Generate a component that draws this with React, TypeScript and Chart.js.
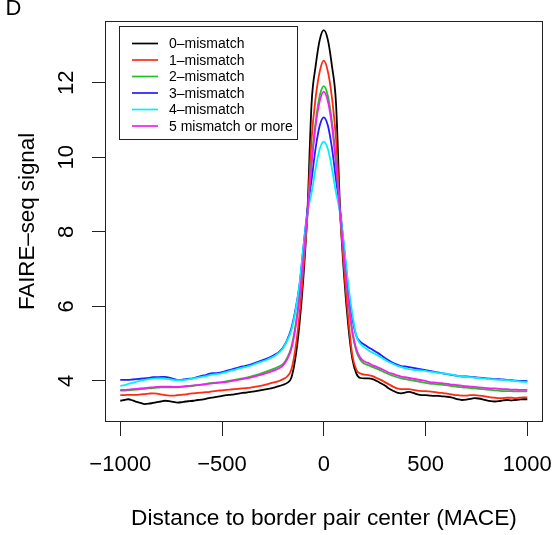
import React, { useEffect, useRef } from "react";
import { Chart, registerables } from "chart.js";

Chart.register(...registerables);

// Distance positions (bp), every 20 bp from -1000 to 1000
const POSITIONS: number[] = Array.from({ length: 101 }, (_, i) => -1000 + 20 * i);

const SERIES_LABELS = [
  "0–mismatch",
  "1–mismatch",
  "2–mismatch",
  "3–mismatch",
  "4–mismatch",
  "5 mismatch or more",
];

const X_TICKS = [-1000, -500, 0, 500, 1000];
const Y_TICKS = [4, 6, 8, 10, 12];

const MISMATCH_0 = [
  3.47, 3.49, 3.51, 3.48, 3.44, 3.41, 3.38, 3.39, 3.41, 3.43,
  3.45, 3.47, 3.46, 3.44, 3.42, 3.43, 3.45, 3.46, 3.47, 3.49,
  3.50, 3.52, 3.55, 3.56, 3.58, 3.60, 3.62, 3.63, 3.64, 3.66,
  3.68, 3.69, 3.71, 3.72, 3.74, 3.76, 3.78, 3.80, 3.83, 3.86,
  3.90, 3.95, 4.08, 4.60, 5.50, 6.80, 8.60, 11.45, 12.45, 13.15,
  13.41,
  13.15, 12.45, 11.45, 8.60, 6.80, 5.50, 4.60, 4.20, 4.08, 4.07,
  4.07, 4.05, 4.00, 3.94, 3.88, 3.80, 3.74, 3.69, 3.67, 3.69,
  3.71, 3.68, 3.64, 3.62, 3.62, 3.61, 3.60, 3.60, 3.59, 3.58,
  3.57, 3.54, 3.51, 3.49, 3.50, 3.52, 3.54, 3.53, 3.51, 3.48,
  3.46, 3.45, 3.46, 3.48, 3.49, 3.48, 3.49, 3.50, 3.51, 3.51,
];

const MISMATCH_1 = [
  3.62, 3.62, 3.63, 3.63, 3.63, 3.64, 3.65, 3.66, 3.67, 3.66,
  3.64, 3.62, 3.61, 3.61, 3.62, 3.63, 3.64, 3.66, 3.67, 3.68,
  3.69, 3.70, 3.71, 3.73, 3.74, 3.75, 3.76, 3.77, 3.78, 3.79,
  3.80, 3.81, 3.82, 3.84, 3.86, 3.88, 3.91, 3.94, 3.97, 4.00,
  4.05, 4.12, 4.30, 4.85, 5.75, 7.00, 8.50, 10.50, 11.60, 12.30,
  12.59,
  12.30, 11.60, 10.50, 8.50, 7.00, 5.70, 4.70, 4.30, 4.20, 4.17,
  4.16, 4.13, 4.08, 4.03, 3.97, 3.91, 3.85, 3.80, 3.78, 3.78,
  3.78, 3.76, 3.74, 3.73, 3.73, 3.72, 3.71, 3.69, 3.68, 3.67,
  3.65, 3.63, 3.62, 3.61, 3.61, 3.62, 3.62, 3.61, 3.60, 3.58,
  3.56, 3.55, 3.54, 3.54, 3.55, 3.55, 3.54, 3.55, 3.56, 3.56,
];

const MISMATCH_2 = [
  3.74, 3.74, 3.75, 3.76, 3.77, 3.78, 3.79, 3.80, 3.81, 3.82,
  3.83, 3.83, 3.83, 3.83, 3.83, 3.84, 3.85, 3.86, 3.87, 3.89,
  3.90, 3.92, 3.94, 3.95, 3.96, 3.97, 3.99, 4.01, 4.03, 4.05,
  4.07, 4.09, 4.12, 4.15, 4.18, 4.22, 4.26, 4.30, 4.34, 4.39,
  4.46, 4.62, 4.90, 5.45, 6.25, 7.30, 8.50, 9.90, 10.95, 11.65,
  11.91,
  11.65, 10.95, 9.90, 8.50, 7.30, 6.20, 5.30, 4.80, 4.56, 4.46,
  4.42, 4.37, 4.33, 4.28, 4.23, 4.18, 4.14, 4.10, 4.07, 4.05,
  4.03, 4.01, 3.99, 3.97, 3.95, 3.93, 3.92, 3.91, 3.90, 3.89,
  3.87, 3.86, 3.84, 3.83, 3.82, 3.81, 3.80, 3.79, 3.78, 3.77,
  3.76, 3.75, 3.74, 3.73, 3.73, 3.73, 3.72, 3.72, 3.72, 3.72,
];

const MISMATCH_3 = [
  4.03, 4.03, 4.03, 4.04, 4.05, 4.06, 4.07, 4.08, 4.10, 4.10,
  4.11, 4.11, 4.09, 4.06, 4.03, 4.03, 4.05, 4.06, 4.08, 4.11,
  4.14, 4.16, 4.20, 4.21, 4.22, 4.24, 4.27, 4.30, 4.33, 4.36,
  4.39, 4.41, 4.44, 4.48, 4.52, 4.56, 4.60, 4.65, 4.71, 4.78,
  4.90, 5.10, 5.40, 5.90, 6.55, 7.60, 8.60, 9.40, 10.25, 10.85,
  11.07,
  10.85, 10.25, 9.40, 8.60, 7.55, 6.50, 5.70, 5.20, 5.05, 4.97,
  4.90, 4.84, 4.77, 4.70, 4.62, 4.55, 4.49, 4.44, 4.40, 4.39,
  4.37, 4.35, 4.33, 4.31, 4.29, 4.27, 4.25, 4.23, 4.21, 4.19,
  4.17, 4.15, 4.14, 4.12, 4.12, 4.11, 4.10, 4.09, 4.08, 4.07,
  4.06, 4.05, 4.05, 4.04, 4.03, 4.02, 4.01, 4.00, 4.00, 4.00,
];

const MISMATCH_4 = [
  3.87, 3.89, 3.92, 3.95, 3.98, 4.01, 4.03, 4.05, 4.06, 4.07,
  4.07, 4.06, 4.05, 4.03, 4.02, 4.02, 4.03, 4.05, 4.07, 4.09,
  4.11, 4.13, 4.16, 4.18, 4.19, 4.21, 4.24, 4.27, 4.30, 4.33,
  4.36, 4.38, 4.41, 4.45, 4.49, 4.53, 4.57, 4.62, 4.68, 4.76,
  4.88, 5.08, 5.35, 5.85, 6.55, 7.60, 8.50, 9.05, 9.70, 10.22,
  10.42,
  10.22, 9.70, 9.05, 8.50, 7.60, 6.60, 5.80, 5.20, 5.00, 4.90,
  4.82, 4.76, 4.70, 4.64, 4.57, 4.51, 4.46, 4.41, 4.37, 4.34,
  4.32, 4.30, 4.29, 4.28, 4.27, 4.25, 4.24, 4.22, 4.21, 4.20,
  4.18, 4.16, 4.14, 4.12, 4.11, 4.10, 4.09, 4.08, 4.07, 4.06,
  4.05, 4.04, 4.03, 4.03, 4.02, 4.01, 4.00, 3.99, 3.98, 3.98,
];

const MISMATCH_5_PLUS = [
  3.76, 3.76, 3.77, 3.78, 3.79, 3.80, 3.81, 3.82, 3.83, 3.84,
  3.85, 3.85, 3.85, 3.84, 3.84, 3.85, 3.86, 3.87, 3.88, 3.89,
  3.90, 3.91, 3.93, 3.94, 3.95, 3.96, 3.97, 3.99, 4.01, 4.03,
  4.05, 4.07, 4.09, 4.12, 4.15, 4.18, 4.21, 4.25, 4.29, 4.34,
  4.42, 4.58, 4.85, 5.40, 6.20, 7.30, 8.50, 9.80, 10.85, 11.50,
  11.76,
  11.50, 10.85, 9.80, 8.50, 7.30, 6.20, 5.35, 4.85, 4.62, 4.52,
  4.48, 4.42, 4.38, 4.33, 4.28, 4.22, 4.19, 4.15, 4.12, 4.10,
  4.08, 4.06, 4.04, 4.02, 4.00, 3.97, 3.96, 3.95, 3.94, 3.93,
  3.91, 3.90, 3.89, 3.87, 3.86, 3.85, 3.84, 3.83, 3.82, 3.81,
  3.80, 3.80, 3.79, 3.78, 3.78, 3.77, 3.77, 3.76, 3.76, 3.76,
];

const SERIES = [MISMATCH_0, MISMATCH_1, MISMATCH_2, MISMATCH_3, MISMATCH_4, MISMATCH_5_PLUS];
const SERIES_COLORS = ["#000000", "#ff2a10", "#1fc31f", "#1e1eff", "#00f0ff", "#f020f0"];

const FONT_FAMILY = '"Liberation Sans", Arial, Helvetica, sans-serif';

const framePlugin = {
  id: "rframe",
  afterDraw(chart: any) {
    const { ctx, chartArea } = chart;
    ctx.save();
    // plot box
    const x0 = Math.round(chartArea.left) + 0.5;
    const x1 = Math.round(chartArea.right) - 0.5;
    const y0 = Math.round(chartArea.top) + 0.5;
    const y1 = Math.round(chartArea.bottom) - 0.5;
    ctx.strokeStyle = "#222";
    ctx.lineWidth = 1;
    ctx.strokeRect(x0, y0, x1 - x0, y1 - y0);

    // y tick labels (rotated, R style)
    const yScale = chart.scales.y;
    ctx.fillStyle = "#000";
    ctx.font = "22px " + FONT_FAMILY;
    ctx.textAlign = "center";
    ctx.textBaseline = "alphabetic";
    for (const t of yScale.ticks) {
      const py = yScale.getPixelForValue(t.value);
      ctx.save();
      ctx.translate(yScale.right - 32.5, py);
      ctx.rotate(-Math.PI / 2);
      ctx.fillText(String(t.value), 0, 0);
      ctx.restore();
    }

    // panel letter
    ctx.textAlign = "left";
    ctx.fillText("D", 5.5, 15);

    // legend box
    const bx = 119.5, by = 26.5, bw = 178, bh = 113;
    ctx.fillStyle = "#fff";
    ctx.fillRect(bx, by, bw, bh);
    ctx.strokeStyle = "#222";
    ctx.lineWidth = 1;
    ctx.strokeRect(bx, by, bw, bh);
    ctx.font = "14px " + FONT_FAMILY;
    ctx.textBaseline = "middle";
    chart.data.datasets.forEach((ds: any, i: number) => {
      const y = 43.5 + i * 16.5;
      ctx.strokeStyle = ds.borderColor;
      ctx.lineWidth = 1.7;
      ctx.beginPath();
      ctx.moveTo(132, y);
      ctx.lineTo(158, y);
      ctx.stroke();
      ctx.fillStyle = "#000";
      ctx.fillText(ds.label, 169, y + 1);
    });
    ctx.restore();
  },
};

export default function App() {
  const canvasRef = useRef<HTMLCanvasElement | null>(null);

  useEffect(() => {
    const canvas = canvasRef.current;
    if (!canvas) return;
    const chart = new Chart(canvas, {
      type: "line",
      data: {
        datasets: SERIES.map((vals, i) => ({
          label: SERIES_LABELS[i],
          data: POSITIONS.map((x, j) => ({ x, y: vals[j] })),
          borderColor: SERIES_COLORS[i],
          backgroundColor: SERIES_COLORS[i],
          borderWidth: 1.8,
          pointRadius: 0,
          cubicInterpolationMode: "monotone" as const,
          fill: false,
          order: 5 - i,
        })),
      },
      options: {
        responsive: false,
        animation: false,
        events: [],
        layout: { padding: { left: 0, right: 15, top: 21, bottom: 0 } },
        plugins: {
          legend: { display: false },
          tooltip: { enabled: false },
        },
        scales: {
          x: {
            type: "linear",
            min: -1075,
            max: 1077,
            afterBuildTicks: (s: any) => {
              s.ticks = X_TICKS.map((v) => ({ value: v }));
            },
            afterFit: (s: any) => {
              s.height = 113;
              s.paddingLeft = 0;
              s.paddingRight = 0;
            },
            ticks: {
              autoSkip: false,
              maxRotation: 0,
              minRotation: 0,
              padding: 15.5,
              color: "#000",
              font: { family: FONT_FAMILY, size: 22 },
              callback: (v: any) => String(v).replace("-", "\u2212"),
            },
            grid: {
              display: true,
              drawOnChartArea: false,
              drawTicks: true,
              tickLength: 14,
              color: "#222",
              lineWidth: 1,
            },
            border: { display: false },
            title: {
              display: true,
              text: "Distance to border pair center (MACE)",
              color: "#000",
              font: { family: FONT_FAMILY, size: 22.7 },
              padding: { top: 0, bottom: 2.5 },
            },
          },
          y: {
            type: "linear",
            min: 2.9,
            max: 13.655,
            afterBuildTicks: (s: any) => {
              s.ticks = Y_TICKS.map((v) => ({ value: v }));
            },
            afterFit: (s: any) => {
              s.width = 105;
              s.paddingTop = 0;
              s.paddingBottom = 0;
            },
            ticks: { display: false },
            grid: {
              display: true,
              drawOnChartArea: false,
              drawTicks: true,
              tickLength: 13,
              color: "#222",
              lineWidth: 1,
            },
            border: { display: false },
            title: {
              display: true,
              text: "FAIRE–seq signal",
              color: "#000",
              font: { family: FONT_FAMILY, size: 22.3 },
              padding: { top: 14, bottom: 0 },
            },
          },
        },
      },
      plugins: [framePlugin],
    });
    return () => chart.destroy();
  }, []);

  return (
    <div style={{ position: "absolute", left: 0, top: 0, width: 558, height: 535, background: "#fff" }}>
      <canvas ref={canvasRef} width={558} height={535} style={{ display: "block" }} />
    </div>
  );
}
